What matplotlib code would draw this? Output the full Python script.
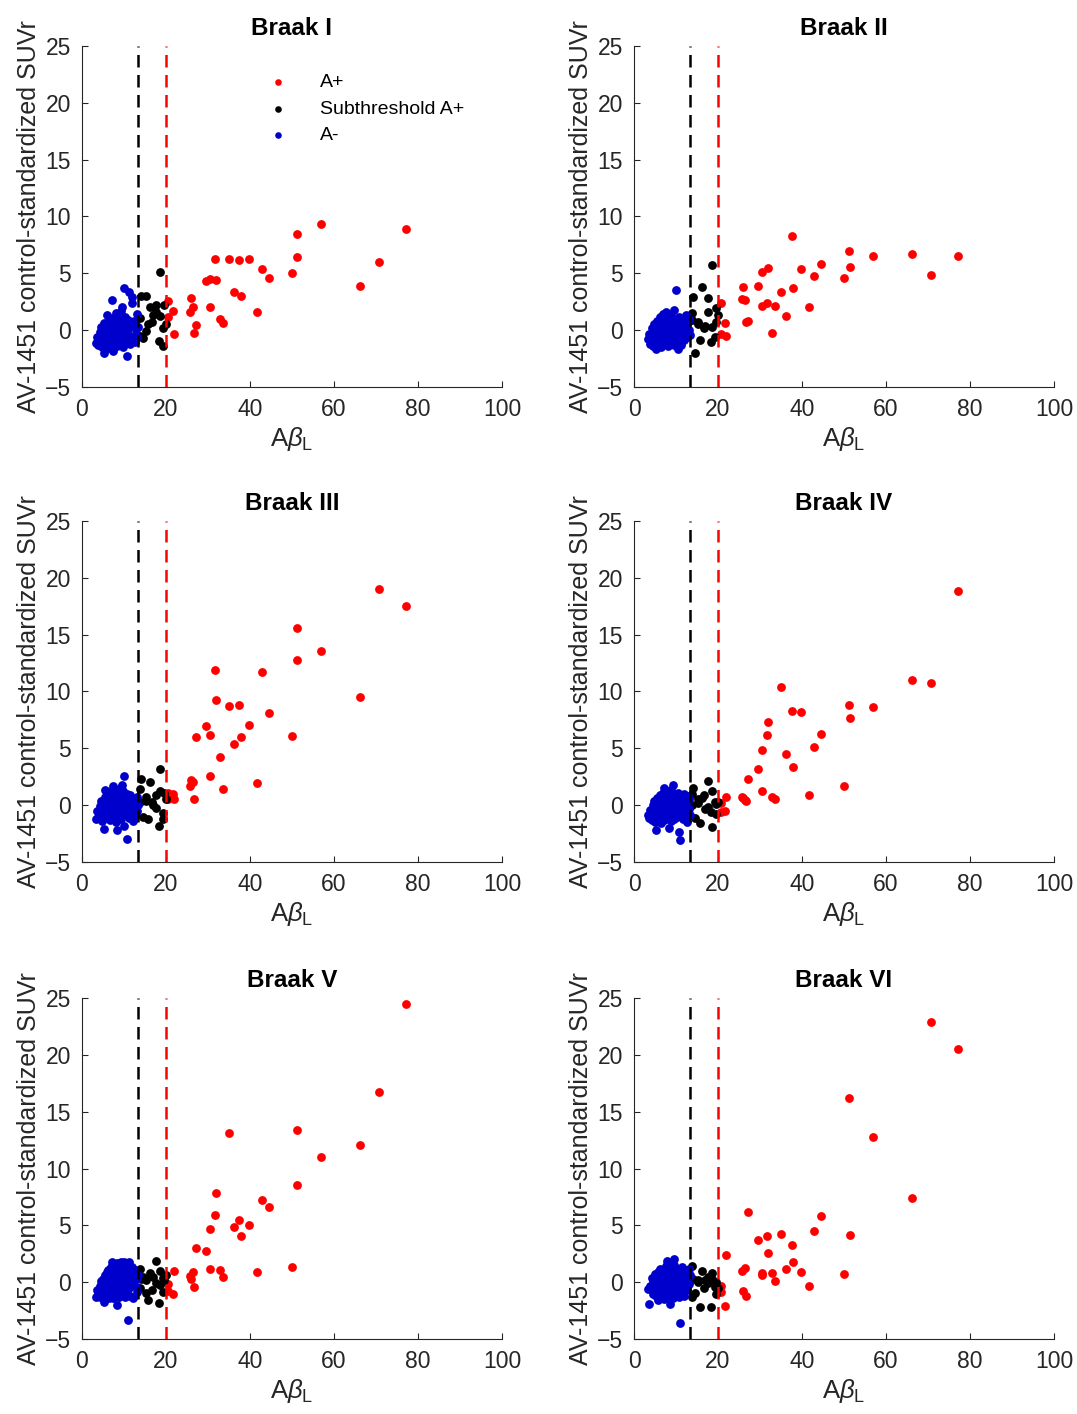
import numpy as np
import matplotlib
matplotlib.use('Agg')
import matplotlib.pyplot as plt

plt.rcParams['font.family'] = ['Liberation Sans', 'DejaVu Sans']
plt.rcParams['mathtext.fontset'] = 'custom'
plt.rcParams['mathtext.rm'] = 'Liberation Sans'
plt.rcParams['mathtext.it'] = 'Liberation Sans:italic'

titles = ['Braak I', 'Braak II', 'Braak III', 'Braak IV', 'Braak V', 'Braak VI']
thr_sub = 13.4
thr_pos = 20.0

# A+ subjects (x shared by all panels)
red_x = [20.6, 20.6, 21.6, 21.8, 25.8, 25.9, 26.5, 26.7, 27.1, 29.5, 30.4, 30.5, 31.6, 31.9, 32.9, 33.5,
         34.9, 36.2, 37.5, 37.8, 39.7, 41.6, 42.9, 44.5, 49.9, 51.2, 51.3, 57.0, 66.1, 70.7, 77.2]
red_y1 = [2.59, 1.19, 1.72, -0.38, 1.63, 2.79, 2.0, -0.26, 0.49, 4.33, 2.03, 4.48, 6.28, 4.39, 0.96, 0.67,
          6.25, 3.40, 6.16, 2.97, 6.25, 1.63, 5.41, 4.59, 5.03, 8.43, 6.4, 9.36, 3.92, 5.96, 8.9]
red_y2 = [2.38, -0.35, 0.61, -0.49, 2.76, 3.81, 2.65, 0.70, 0.78, 3.87, 2.15, 5.09, 2.35, 5.47, -0.26, 2.12,
          3.37, 1.22, 8.28, 3.72, 5.38, 2.06, 4.80, 5.81, 4.59, 6.92, 5.52, 6.54, 6.72, 4.83, 6.51]
red_y3 = [1.1, 0.5, 0.95, 0.5, 1.66, 2.24, 2.04, 0.5, 5.95, 6.94, 2.54, 6.15, 11.9, 9.27, 4.26, 1.46,
          8.72, 5.34, 8.8, 6.03, 7.06, 1.98, 11.7, 8.13, 6.09, 15.6, 12.8, 13.6, 9.5, 19.0, 17.5]
red_y4 = [0.2, -0.6, -0.52, 0.70, 0.7, 0.6, 0.45, 0.35, 2.33, 3.21, 1.22, 4.84, 6.15, 7.29, 0.7, 0.5,
          10.4, 4.46, 8.28, 3.38, 8.16, 0.9, 5.07, 6.30, 1.72, 8.78, 7.70, 8.63, 10.99, 10.7, 18.8]
red_y5 = [-0.15, -0.8, -1.08, 0.96, 0.56, 0.26, 0.88, -0.38, 3.04, 2.78, 1.2, 4.71, 5.94, 7.89, 1.05, 0.44,
          13.1, 4.88, 5.47, 4.09, 5.03, 0.91, 7.25, 6.61, 1.37, 13.4, 8.54, 11.0, 12.1, 16.7, 24.5]
red_y6 = [-0.32, -0.88, -2.05, 2.40, 0.99, -0.73, 1.29, -1.2, 6.17, 3.71, 0.82, 0.61, 4.09, 2.57, 0.82, 0.09,
          4.27, 1.17, 3.27, 1.75, 0.94, -0.35, 4.53, 5.82, 0.76, 16.2, 4.15, 12.8, 7.43, 22.9, 20.5]

# subthreshold A+ subjects
black_x = [13.8, 13.8, 14.0, 14.6, 15.2, 15.3, 15.8, 16.1, 16.6, 17.0, 17.6, 17.6, 18.4, 18.5, 18.6, 19.2, 19.4, 19.6, 19.9]
black_y1 = [1.05, -0.55, 3.0, -0.70, 2.97, -0.03, 0.52, 2.06, 0.76, 1.34, 2.18, 1.63, -0.99, 5.15, 1.25, -1.42, 0.17, 2.18, 0.55]
black_y2 = [1.48, 0.9, 2.91, -2.03, 0.70, 0.5, -0.84, 3.81, 0.23, 0.4, 1.60, 2.85, -1.08, 5.73, 0.32, -0.64, 1.98, 0.73, 1.31]
black_y3 = [1.43, 0.3, 2.33, -1.02, 0.70, 0.4, -1.2, 2.07, 0.26, 0.0, 0.93, -0.23, -1.84, 3.18, 1.2, -0.73, -1.2, 1.08, 0.58]
black_y4 = [1.0, 0.0, 1.52, -1.1, 0.2, 0.5, -1.55, 0.64, 0.9, -0.38, 2.13, -0.17, -0.6, 1.28, -1.9, 0.29, 0.1, -0.82, 0.3]
black_y5 = [1.14, -0.47, 0.3, 0.44, -0.96, 0.2, -1.55, 0.85, -0.67, 0.5, 1.9, -0.03, -1.84, 0.99, -0.23, -0.9, 0.4, 0.2, 0.67]
black_y6 = [1.43, -1.26, 0.32, -0.91, 0.2, 0.0, -2.19, 0.99, -0.47, 0.2, 0.5, -0.09, -2.22, 0.79, 0.3, -0.4, -1.02, 0.0, -0.5]

# A- subjects
blue_x = [3.3, 3.6, 3.9, 4.2, 4.4, 4.6, 4.8, 5.0, 5.2, 5.3, 5.5, 5.6, 5.8, 5.9, 6.1, 6.2, 6.4, 6.5, 6.7, 6.8,
          7.0, 7.1, 7.2, 7.4, 7.5, 7.6, 7.8, 7.9, 8.0, 8.2, 8.3, 8.4, 8.5, 8.7, 8.8, 8.9, 9.0, 9.2, 9.3, 9.4,
          9.5, 9.6, 9.8, 9.9, 10.0, 10.1, 10.3, 10.4, 10.5, 10.7, 10.8, 10.9, 11.0, 11.2, 11.3, 11.5, 11.7, 11.8, 12.0, 12.2,
          12.4, 12.6, 12.8, 13.0, 13.2, 13.3, 6.0, 7.3, 8.6, 9.7]
blue_y1 = [-1.1, -0.6, -1.3, -0.2, -0.9, 0.3, -1.5, -0.4, -2.0, 0.6, -1.2, 0.1, -0.7, 1.3, -1.6, 0.4, -0.3, 0.9, -1.0, 0.2,
           -0.5, 1.1, 2.65, -1.3, -1.86, 0.5, -0.2, 0.8, -0.8, 1.5, 0.0, -1.4, 0.6, -0.6, 1.0, -1.1, 0.3, -0.4, 1.7, -0.9,
           2.06, 0.1, -1.5, 3.75, 0.7, -0.3, 1.2, -1.0, 0.4, -2.3, -0.1, 0.9, -0.7, 0.2, 3.37, -1.2, 0.5, 2.94, 2.35, -0.5,
           0.8, -1.0, 0.1, 1.4, -0.6, 0.3, -0.9, 0.0, -0.2, 0.9]
blue_y2 = [-0.8, -0.3, -1.2, 0.2, -0.6, -1.4, 0.5, -0.9, 0.0, -1.7, 0.8, -0.4, 0.3, -1.1, 1.2, -0.7, 0.6, -1.5, 0.1, 1.4,
           -0.2, -1.2, 0.9, -0.5, 1.6, 0.2, -0.9, 0.5, -1.4, 1.1, -0.1, 0.7, -0.6, 1.3, 0.0, -1.0, 0.6, -0.3, 1.0, -1.3,
           0.3, 1.8, -0.7, 3.5, 0.4, -1.1, 0.9, -0.2, -1.7, 0.6, 1.2, -0.5, 0.2, -1.3, 0.8, -0.3, 1.0, -0.9, 0.4, -0.1,
           1.3, -0.6, 0.7, 0.0, 1.0, -0.4, 0.0, 0.4, -0.4, 0.2]
blue_y3 = [-1.2, -0.5, -1.0, -0.1, -0.8, 0.4, -1.4, 0.0, -0.6, -2.07, 0.7, 1.3, -0.3, -1.1, 0.5, -0.8, 1.0, -0.2, -1.3, 0.3,
           1.2, -0.5, 0.6, -1.0, 1.7, 0.1, -0.7, 0.9, -1.5, 0.4, -2.2, 1.1, -0.2, 0.7, -0.9, 1.4, -0.4, 0.2, -1.2, 0.9,
           1.8, -0.6, 0.5, 2.6, -0.1, -1.84, 0.8, -0.8, 0.3, -2.95, 1.0, -0.4, 0.6, -1.1, 0.1, 0.9, -0.6, 0.3, -0.2, -1.4,
           0.5, -0.9, 0.2, 0.7, -0.5, 0.0, 0.2, -0.2, 0.0, 1.2]
blue_y4 = [-0.9, -1.1, -0.4, -1.3, 0.0, -0.7, 0.4, -1.5, -0.2, -2.2, 0.6, -0.9, 0.2, -1.2, 0.9, -0.5, -1.6, 0.3, -0.8, 1.1,
           -0.1, 1.5, -1.3, 0.5, -0.6, 1.2, 0.0, -1.0, 0.7, -0.3, 1.0, -2.0, 0.2, -0.7, 1.3, -1.4, 0.4, -0.2, 1.8, -0.9,
           0.6, -1.2, 0.1, 1.0, -0.5, 0.7, -1.0, 0.3, 1.1, -2.33, -0.3, -3.1, 0.5, -0.8, 0.9, -0.1, -1.2, 0.4, 1.0, -0.6,
           0.2, -1.5, 0.8, -0.3, 0.5, -0.9, 0.1, -0.4, -0.1, 0.8]
blue_y5 = [-1.26, -0.7, -1.0, -0.3, -1.3, 0.1, -0.8, 0.3, -1.7, -0.4, 0.6, -1.1, 0.0, 0.9, -0.6, 1.1, -1.4, 0.4, -0.2, 1.3,
           -0.9, 0.7, 1.8, -0.4, -1.4, 0.9, 1.5, -0.1, -1.0, 0.5, 1.7, -2.0, 0.2, -0.6, 1.2, -1.3, 0.8, 1.8, -0.3, 0.3,
           -1.1, 1.4, -0.7, 0.6, 1.8, -0.2, -1.3, 1.0, 0.1, -0.8, 1.6, -3.36, 0.4, -0.5, 1.8, -1.2, 0.7, 1.3, -0.1, -1.4,
           0.5, 1.1, -0.4, 0.3, -0.9, 0.6, 0.2, 0.0, -0.3, 0.1]
blue_y6 = [-0.6, -1.93, -0.3, 0.4, -1.0, 0.1, -0.5, 0.7, -1.2, 0.3, -0.2, -1.55, 0.9, -0.8, 0.2, 1.2, -1.3, -0.4, 0.6, -1.0,
           1.0, 0.0, -1.5, 0.5, 1.4, -0.7, 0.2, 1.9, -1.2, 0.8, -0.3, 1.3, -1.93, 0.4, -0.9, 1.1, -0.1, 0.7, -1.4, 1.5,
           0.0, 2.07, -0.6, 0.9, -1.1, 0.3, 1.2, -0.5, 0.6, -1.3, 0.1, -3.6, 1.0, -0.8, 0.4, 1.3, -0.4, -1.2, 0.8, 0.0,
           1.1, -0.7, 0.5, 1.2, -0.2, 0.6, -0.2, 0.3, 0.1, -0.3]

red_ys = [red_y1, red_y2, red_y3, red_y4, red_y5, red_y6]
black_ys = [black_y1, black_y2, black_y3, black_y4, black_y5, black_y6]
blue_ys = [blue_y1, blue_y2, blue_y3, blue_y4, blue_y5, blue_y6]

red = (1.0, 0.0, 0.0)
blue = (0.0, 0.0, 0.8)
axcol = (0.15, 0.15, 0.15)

fig = plt.figure(figsize=(10.77, 14.14), dpi=100)
lefts = [0.0761, 0.5887]
bottoms = [0.7263, 0.3904, 0.0530]
w = 0.390
h = 0.2412

for i in range(6):
    ax = fig.add_axes([lefts[i % 2], bottoms[i // 2], w, h])
    ax.scatter(red_x, red_ys[i], s=40, color=red, linewidths=0, label='A+', zorder=3)
    ax.scatter(black_x, black_ys[i], s=40, color='k', linewidths=0, label='Subthreshold A+', zorder=3)
    ax.scatter(blue_x, blue_ys[i], s=40, color=blue, linewidths=0, label='A-', zorder=3)
    ax.axvline(thr_sub, color='k', linestyle=(0, (5, 3)), linewidth=1.8, zorder=4)
    ax.axvline(thr_pos, color=red, linestyle=(0, (5, 3)), linewidth=1.8, zorder=4)
    ax.set_xlim(0, 100)
    ax.set_ylim(-5, 25)
    ax.set_xticks(np.arange(0, 101, 20))
    ax.set_yticks(np.arange(-5, 26, 5))
    ax.spines['top'].set_visible(False)
    ax.spines['right'].set_visible(False)
    for s in ['left', 'bottom']:
        ax.spines[s].set_color(axcol)
        ax.spines[s].set_linewidth(0.8)
    ax.tick_params(direction='in', length=4, width=0.8, colors=axcol, labelsize=16.5, pad=8)
    ax.set_title(titles[i], fontsize=17.5, fontweight='bold', pad=8)
    ax.set_xlabel(r'A$\beta_\mathrm{L}$', fontsize=18.5, color=axcol, labelpad=3)
    ax.set_ylabel('AV-1451 control-standardized SUVr', fontsize=18, color=axcol, labelpad=3)
    if i == 0:
        ax.legend(loc='upper left', bbox_to_anchor=(0.39, 0.97), frameon=False, fontsize=14,
                  markerscale=0.75, handletextpad=1.4, labelspacing=0.45, handlelength=1.5)

fig.savefig('out.png', dpi=100)
